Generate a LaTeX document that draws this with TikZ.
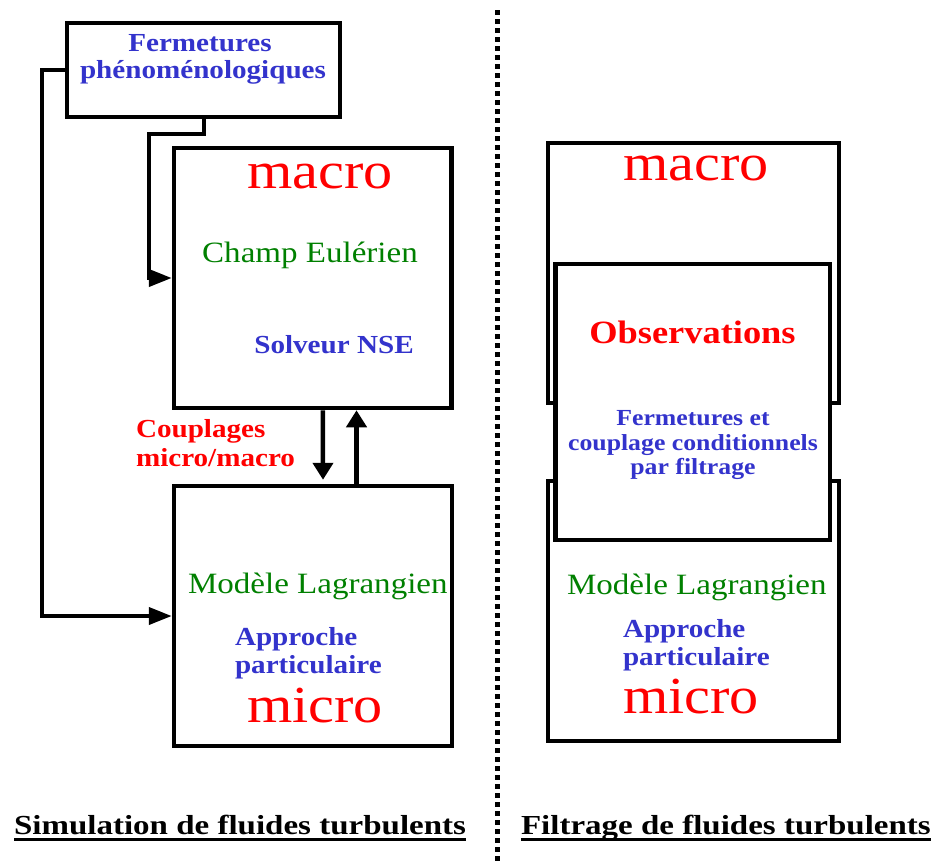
\documentclass[tikz,border=0pt]{standalone}
\usepackage{fontspec}
\usetikzlibrary{arrows.meta}
\newfontfamily\tnr[FakeStretch=1.12]{Liberation Serif}
\newfontfamily\tnrwide[FakeStretch=1.2]{Liberation Serif}
\definecolor{myblue}{RGB}{51,51,204}
\definecolor{mygreen}{RGB}{0,128,0}
\definecolor{myred}{RGB}{255,0,0}
\tikzset{
  box/.style={draw=black, fill=white, rectangle, inner sep=0pt, line width=4.5pt},
  txt/.style={inner sep=0pt, outer sep=0pt},
  bluet/.style={txt, text=myblue, font=\tnr\bfseries\fontsize{26}{30}\selectfont},
  bluesm/.style={txt, text=myblue, font=\tnr\bfseries\fontsize{23}{27}\selectfont},
  redbig/.style={txt, text=myred, font=\tnr\fontsize{52}{60}\selectfont},
  greent/.style={txt, text=mygreen, font=\tnr\fontsize{29.5}{34}\selectfont},
  redb/.style={txt, text=myred, font=\tnr\bfseries\fontsize{26}{30}\selectfont},
  titlet/.style={txt, text=black, font=\tnrwide\bfseries\fontsize{27.5}{32}\selectfont},
  vert/.style={line width=4.5pt, -{Triangle[length=17pt,width=20pt]}},
  side/.style={line width=4pt, -{Triangle[length=23pt,width=17pt]}},
}
\begin{document}
\begin{tikzpicture}[x=1pt,y=-1pt]
\useasboundingbox (0,0) rectangle (942,863);
% dotted separator
\coordinate (septop) at (497.5,10);
\coordinate (sepbot) at (497.5,863);
\draw[line width=4.5pt, dash pattern=on 4.5pt off 4.5pt] (septop) -- (sepbot);

% left side boxes
\node[box, line width=4pt, minimum width=273pt, minimum height=93.5pt] (ferm) at (203,69.75) {};
\node[box, minimum width=277.5pt, minimum height=260pt] (lmac) at (312.75,278) {};
\node[box, minimum width=278pt, minimum height=260pt] (lmic) at (313,616) {};

% right side boxes
\node[box, line width=4pt, minimum width=291pt, minimum height=260pt] (rmac) at (693.5,273) {};
\node[box, line width=4pt, minimum width=291pt, minimum height=260pt] (rmic) at (693.5,611) {};
\node[box, minimum width=274.5pt, minimum height=276pt] (obs) at (692.75,402) {};

% left texts
\node[bluet, anchor=base] (t1) at (200,51) {Fermetures};
\node[bluet, anchor=base] (t2) at (203,78) {phénoménologiques};
\node[redbig, anchor=base] (lmacro) at (320,188) {macro};
\node[greent, anchor=base] (champ) at (310,262) {Champ Eulérien};
\node[bluet, anchor=base] (solv) at (334,353) {Solveur NSE};
\node[redb, anchor=base west] (coup1) at (136,437) {Couplages};
\node[redb, anchor=base west] (coup2) at (136,466) {micro/macro};
\node[greent, anchor=base west] (lmod) at (188,593) {Modèle Lagrangien};
\node[bluet, anchor=base west] (lapp1) at (235,645) {Approche};
\node[bluet, anchor=base west] (lapp2) at (235,673) {particulaire};
\node[redbig, anchor=base west] (lmicro) at (247,722) {micro};

% right texts
\node[redbig, anchor=base west] (rmacro) at (623,180) {macro};
\node[txt, text=myred, font=\tnr\bfseries\fontsize{32.5}{38}\selectfont, anchor=base] (obst) at (692.5,343) {Observations};
\node[bluesm, anchor=base] (f1) at (693,425) {Fermetures et};
\node[bluesm, anchor=base] (f2) at (693,450) {couplage conditionnels};
\node[bluesm, anchor=base] (f3) at (693,474) {par filtrage};
\node[greent, anchor=base west] (rmod) at (567,594) {Modèle Lagrangien};
\node[bluet, anchor=base west] (rapp1) at (623,637) {Approche};
\node[bluet, anchor=base west] (rapp2) at (623,665) {particulaire};
\node[redbig, anchor=base west] (rmicro) at (623,713) {micro};

% bottom titles
\node[titlet, anchor=base west] (simt) at (14,834) {Simulation de fluides turbulents};
\node[titlet, anchor=base west] (filt) at (521,834) {Filtrage de fluides turbulents};
\draw[line width=3pt] ([yshift=-5.5pt]simt.base west) -- ([yshift=-5.5pt]simt.base east);
\draw[line width=3pt] ([yshift=-5.5pt]filt.base west) -- ([yshift=-5.5pt]filt.base east);

% connectors
\draw[vert] ([xshift=10.2pt]lmac.south) -- ([xshift=10pt,yshift=4pt]lmic.north);
\draw[vert] ([xshift=43.5pt]lmic.north) -- ([xshift=43.75pt]lmac.south);
\draw[side] (ferm.west) -- ++(-23,0) |- (lmic.west);
\draw[side] ([xshift=0.5pt]ferm.south) |- (149,133.5) |- (lmac.west);
\end{tikzpicture}
\end{document}
